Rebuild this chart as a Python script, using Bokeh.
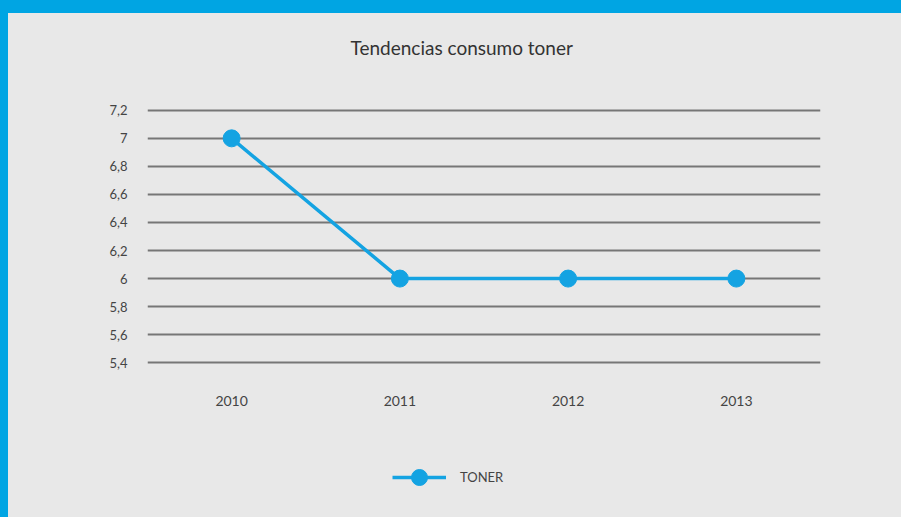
from bokeh.plotting import figure
from bokeh.layouts import column
from bokeh.models import (Legend, LegendItem, GlobalInlineStyleSheet, Range1d, FixedTicker,
                          CustomJSTickFormatter, Title)
from bokeh.embed import file_html
from bokeh.resources import INLINE

# ---- data ----
years = ["2010", "2011", "2012", "2013"]
toner = [7, 6, 6, 6]
y_ticks = [5.4, 5.6, 5.8, 6.0, 6.2, 6.4, 6.6, 6.8, 7.0, 7.2]
series_name = "TONER"
title_text = "Tendencias consumo toner"

BLUE = "#00a5e3"
LINE_BLUE = "#14a3e2"
BG = "#e8e8e8"
FONT = "Lato"

p = figure(
    x_range=years, y_range=Range1d(5.38, 7.22),
    width=893, height=440,
    output_backend="svg", toolbar_location=None,
    min_border_left=139, min_border_right=81,
    min_border_top=94, min_border_bottom=88,
    background_fill_color=BG, border_fill_color=BG,
    outline_line_color=None,
)
p.title.text = ""
# spacer between title and plot area (closest to the frame), then the title
p.add_layout(Title(text=" ", text_font_size="10px", standoff=36), "above")
p.add_layout(Title(text=title_text, align="left", offset=203, standoff=0,
                   text_font=FONT, text_font_size="19px", text_font_style="normal",
                   text_color="#333333"), "above")

p.xgrid.visible = False
p.ygrid.grid_line_color = "#767676"
p.ygrid.grid_line_width = 2
p.yaxis.ticker = FixedTicker(ticks=y_ticks)
p.yaxis.formatter = CustomJSTickFormatter(code="return String(Math.round(tick*10)/10).replace('.', ',');")

for ax in (p.xaxis[0], p.yaxis[0]):
    ax.axis_line_color = None
    ax.major_tick_line_color = None
    ax.minor_tick_line_color = None
    ax.major_label_text_font = FONT
    ax.major_label_text_color = "#444444"
p.xaxis.major_label_text_font_size = "14px"
p.yaxis.major_label_text_font_size = "13px"
p.xaxis.major_label_standoff = 24
p.yaxis.major_label_standoff = 14

p.line(years, toner, line_color=LINE_BLUE, line_width=3.5)
p.scatter(years, toner, size=17, fill_color=LINE_BLUE, line_color=LINE_BLUE)

# legend strip below the chart
p2 = figure(
    x_range=years, y_range=Range1d(100, 101),
    width=893, height=64, x_axis_type=None, y_axis_type=None,
    output_backend="svg", toolbar_location=None,
    min_border_left=0, min_border_right=0, min_border_top=0, min_border_bottom=0,
    background_fill_color=BG, border_fill_color=BG, outline_line_color=None,
)
l2 = p2.line(years, toner, line_color=LINE_BLUE, line_width=3.5)
s2 = p2.scatter(years, toner, size=17, fill_color=LINE_BLUE, line_color=LINE_BLUE)
legend = Legend(
    items=[LegendItem(label=series_name, renderers=[l2, s2])],
    location=(245, 20), orientation="horizontal",
    border_line_color=None, background_fill_alpha=0,
    glyph_width=54, glyph_height=40, label_standoff=14,
    label_text_font=FONT, label_text_font_size="13px", label_text_color="#444444",
    padding=0, margin=0,
)
p2.add_layout(legend)

layout = column(p, p2, spacing=0)
layout.stylesheets = [GlobalInlineStyleSheet(css=(
    "html,body{margin:0;padding:0;background:%s;}"
    "body{border-left:8px solid %s;border-top:13px solid %s;}" % (BG, BLUE, BLUE)
))]

open("out.html", "w").write(file_html(layout, INLINE))
